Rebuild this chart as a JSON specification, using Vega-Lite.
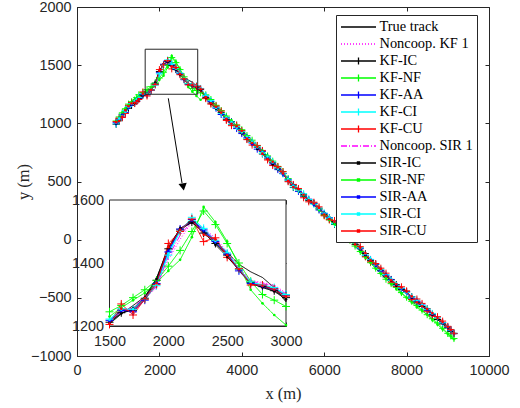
{
"$schema":"https://vega.github.io/schema/vega-lite/v6.json",
"width":412,"height":349,"autosize":"none",
"padding":{"left":77,"top":7,"right":31,"bottom":52},
"background":"white",
"config":{"view":{"stroke":"#262626","strokeWidth":1},
"axis":{"grid":false,"domainColor":"#262626","tickColor":"#262626","labelColor":"#262626","labelFont":"Liberation Sans","labelFontSize":14.4,"titleFont":"Liberation Serif","titleFontSize":16.5,"titleFontWeight":"normal","titleColor":"#262626","labelFlush":false,"labelOverlap":false,"tickSize":-4,"labelPadding":10,"domainWidth":1,"tickWidth":1}},
"datasets":{
"tracks":[
{"x":950,"T":1000,"N1":1010,"KIC":992,"KNF":1020,"KAA":1005,"KCI":995,"KCU":1015,"S1":1006,"SIC":996,"SNF":1015,"SAA":1000,"SCI":1008,"SCU":1010},
{"x":1025,"T":1030,"N1":1040,"KIC":1022,"KNF":1055,"KAA":1036,"KCI":1028,"KCU":1045,"S1":1034,"SIC":1026,"SNF":1050,"SAA":1038,"SCI":1040,"SCU":1020},
{"x":1100,"T":1065,"N1":1060,"KIC":1077,"KNF":1090,"KAA":1055,"KCI":1073,"KCU":1050,"S1":1069,"SIC":1071,"SNF":1093,"SAA":1073,"SCI":1063,"SCU":1059},
{"x":1175,"T":1100,"N1":1095,"KIC":1112,"KNF":1125,"KAA":1094,"KCI":1110,"KCU":1085,"S1":1104,"SIC":1108,"SNF":1128,"SAA":1106,"SCI":1098,"SCU":1112},
{"x":1250,"T":1135,"N1":1150,"KIC":1130,"KNF":1165,"KAA":1143,"KCI":1147,"KCU":1155,"S1":1127,"SIC":1145,"SNF":1157,"SAA":1131,"SCI":1141,"SCU":1147},
{"x":1325,"T":1160,"N1":1170,"KIC":1155,"KNF":1185,"KAA":1168,"KCI":1172,"KCU":1180,"S1":1158,"SIC":1166,"SNF":1180,"SAA":1160,"SCI":1170,"SCU":1172},
{"x":1400,"T":1180,"N1":1185,"KIC":1190,"KNF":1200,"KAA":1174,"KCI":1176,"KCU":1170,"S1":1190,"SIC":1172,"SNF":1205,"SAA":1186,"SCI":1192,"SCU":1176},
{"x":1450,"T":1195,"N1":1200,"KIC":1202,"KNF":1222,"KAA":1190,"KCI":1198,"KCU":1188,"S1":1204,"SIC":1196,"SNF":1218,"SAA":1200,"SCI":1206,"SCU":1192},
{"x":1500,"T":1207,"N1":1215,"KIC":1212,"KNF":1245,"KAA":1218,"KCI":1222,"KCU":1205,"S1":1213,"SIC":1210,"SNF":1230,"SAA":1215,"SCI":1220,"SCU":1208},
{"x":1600,"T":1238,"N1":1250,"KIC":1242,"KNF":1265,"KAA":1250,"KCI":1255,"KCU":1270,"S1":1246,"SIC":1240,"SNF":1258,"SAA":1248,"SCI":1252,"SCU":1255},
{"x":1700,"T":1265,"N1":1255,"KIC":1250,"KNF":1290,"KAA":1245,"KCI":1252,"KCU":1235,"S1":1258,"SIC":1255,"SNF":1282,"SAA":1250,"SCI":1254,"SCU":1245},
{"x":1800,"T":1293,"N1":1290,"KIC":1288,"KNF":1315,"KAA":1282,"KCI":1285,"KCU":1285,"S1":1292,"SIC":1290,"SNF":1305,"SAA":1286,"SCI":1288,"SCU":1288},
{"x":1900,"T":1352,"N1":1320,"KIC":1345,"KNF":1345,"KAA":1335,"KCI":1328,"KCU":1332,"S1":1325,"SIC":1350,"SNF":1338,"SAA":1338,"SCI":1332,"SCU":1336},
{"x":2000,"T":1450,"N1":1410,"KIC":1445,"KNF":1390,"KAA":1435,"KCI":1425,"KCU":1462,"S1":1420,"SIC":1448,"SNF":1375,"SAA":1438,"SCI":1430,"SCU":1450},
{"x":2100,"T":1508,"N1":1475,"KIC":1505,"KNF":1440,"KAA":1508,"KCI":1500,"KCU":1500,"S1":1488,"SIC":1510,"SNF":1410,"SAA":1505,"SCI":1502,"SCU":1505},
{"x":2200,"T":1532,"N1":1530,"KIC":1530,"KNF":1500,"KAA":1538,"KCI":1545,"KCU":1540,"S1":1532,"SIC":1528,"SNF":1482,"SAA":1535,"SCI":1542,"SCU":1538},
{"x":2300,"T":1505,"N1":1510,"KIC":1495,"KNF":1565,"KAA":1505,"KCI":1510,"KCU":1468,"S1":1506,"SIC":1500,"SNF":1578,"SAA":1502,"SCI":1508,"SCU":1490},
{"x":2400,"T":1466,"N1":1480,"KIC":1462,"KNF":1522,"KAA":1468,"KCI":1472,"KCU":1480,"S1":1474,"SIC":1458,"SNF":1530,"SAA":1466,"SCI":1470,"SCU":1475},
{"x":2500,"T":1433,"N1":1435,"KIC":1425,"KNF":1462,"KAA":1428,"KCI":1432,"KCU":1418,"S1":1433,"SIC":1420,"SNF":1468,"SAA":1430,"SCI":1434,"SCU":1425},
{"x":2600,"T":1396,"N1":1385,"KIC":1380,"KNF":1400,"KAA":1375,"KCI":1380,"KCU":1382,"S1":1380,"SIC":1378,"SNF":1392,"SAA":1378,"SCI":1382,"SCU":1380},
{"x":2700,"T":1372,"N1":1345,"KIC":1338,"KNF":1342,"KAA":1335,"KCI":1340,"KCU":1330,"S1":1342,"SIC":1335,"SNF":1315,"SAA":1336,"SCI":1338,"SCU":1333},
{"x":2800,"T":1354,"N1":1338,"KIC":1325,"KNF":1300,"KAA":1328,"KCI":1330,"KCU":1330,"S1":1335,"SIC":1322,"SNF":1272,"SAA":1326,"SCI":1330,"SCU":1328},
{"x":2900,"T":1322,"N1":1330,"KIC":1312,"KNF":1282,"KAA":1318,"KCI":1322,"KCU":1318,"S1":1326,"SIC":1310,"SNF":1235,"SAA":1316,"SCI":1320,"SCU":1316},
{"x":3000,"T":1277,"N1":1305,"KIC":1290,"KNF":1262,"KAA":1298,"KCI":1300,"KCU":1295,"S1":1302,"SIC":1285,"SNF":1203,"SAA":1296,"SCI":1299,"SCU":1294},
{"x":3125,"T":1228,"N1":1240,"KIC":1220,"KNF":1245,"KAA":1235,"KCI":1238,"KCU":1212,"S1":1232,"SIC":1222,"SNF":1230,"SAA":1236,"SCI":1240,"SCU":1225},
{"x":3250,"T":1180,"N1":1192,"KIC":1174,"KNF":1205,"KAA":1188,"KCI":1195,"KCU":1165,"S1":1185,"SIC":1170,"SNF":1200,"SAA":1184,"SCI":1192,"SCU":1172},
{"x":3375,"T":1128,"N1":1122,"KIC":1140,"KNF":1155,"KAA":1130,"KCI":1138,"KCU":1150,"S1":1134,"SIC":1125,"SNF":1150,"SAA":1136,"SCI":1132,"SCU":1142},
{"x":3500,"T":1080,"N1":1072,"KIC":1094,"KNF":1110,"KAA":1076,"KCI":1086,"KCU":1105,"S1":1090,"SIC":1088,"SNF":1098,"SAA":1090,"SCI":1084,"SCU":1092},
{"x":3625,"T":1040,"N1":1052,"KIC":1035,"KNF":1062,"KAA":1048,"KCI":1044,"KCU":1025,"S1":1046,"SIC":1050,"SNF":1060,"SAA":1042,"SCI":1052,"SCU":1038},
{"x":3750,"T":1000,"N1":1010,"KIC":990,"KNF":1015,"KAA":1012,"KCI":992,"KCU":980,"S1":994,"SIC":1004,"SNF":1025,"SAA":1002,"SCI":1010,"SCU":996},
{"x":3875,"T":960,"N1":965,"KIC":970,"KNF":985,"KAA":955,"KCI":972,"KCU":985,"S1":958,"SIC":966,"SNF":980,"SAA":968,"SCI":962,"SCU":975},
{"x":4000,"T":920,"N1":935,"KIC":925,"KNF":945,"KAA":912,"KCI":932,"KCU":938,"S1":928,"SIC":914,"SNF":940,"SAA":928,"SCI":922,"SCU":935},
{"x":4125,"T":873,"N1":885,"KIC":866,"KNF":895,"KAA":880,"KCI":870,"KCU":860,"S1":882,"SIC":874,"SNF":890,"SAA":878,"SCI":884,"SCU":868},
{"x":4250,"T":825,"N1":820,"KIC":837,"KNF":855,"KAA":831,"KCI":835,"KCU":813,"S1":837,"SIC":835,"SNF":837,"SAA":821,"SCI":839,"SCU":831},
{"x":4375,"T":785,"N1":790,"KIC":795,"KNF":808,"KAA":778,"KCI":798,"KCU":810,"S1":788,"SIC":780,"SNF":800,"SAA":792,"SCI":794,"SCU":799},
{"x":4500,"T":745,"N1":755,"KIC":737,"KNF":755,"KAA":760,"KCI":741,"KCU":767,"S1":741,"SIC":751,"SNF":765,"SAA":755,"SCI":751,"SCU":739},
{"x":4625,"T":700,"N1":712,"KIC":695,"KNF":720,"KAA":710,"KCI":702,"KCU":685,"S1":706,"SIC":712,"SNF":722,"SAA":700,"SCI":714,"SCU":692},
{"x":4750,"T":655,"N1":673,"KIC":661,"KNF":675,"KAA":650,"KCI":669,"KCU":637,"S1":664,"SIC":647,"SNF":670,"SAA":661,"SCI":663,"SCU":669},
{"x":4875,"T":608,"N1":600,"KIC":615,"KNF":630,"KAA":602,"KCI":620,"KCU":628,"S1":612,"SIC":605,"SNF":620,"SAA":615,"SCI":610,"SCU":622},
{"x":5000,"T":560,"N1":554,"KIC":570,"KNF":585,"KAA":568,"KCI":566,"KCU":585,"S1":563,"SIC":572,"SNF":568,"SAA":560,"SCI":572,"SCU":570},
{"x":5125,"T":510,"N1":522,"KIC":505,"KNF":525,"KAA":518,"KCI":512,"KCU":498,"S1":516,"SIC":520,"SNF":520,"SAA":508,"SCI":520,"SCU":505},
{"x":5250,"T":460,"N1":472,"KIC":448,"KNF":465,"KAA":470,"KCI":452,"KCU":475,"S1":450,"SIC":464,"SNF":470,"SAA":468,"SCI":462,"SCU":452},
{"x":5375,"T":420,"N1":415,"KIC":432,"KNF":428,"KAA":415,"KCI":428,"KCU":440,"S1":424,"SIC":418,"SNF":425,"SAA":428,"SCI":422,"SCU":433},
{"x":5500,"T":380,"N1":388,"KIC":385,"KNF":375,"KAA":374,"KCI":396,"KCU":360,"S1":392,"SIC":376,"SNF":380,"SAA":390,"SCI":390,"SCU":386},
{"x":5625,"T":340,"N1":352,"KIC":336,"KNF":345,"KAA":348,"KCI":344,"KCU":325,"S1":338,"SIC":350,"SNF":340,"SAA":342,"SCI":352,"SCU":338},
{"x":5750,"T":300,"N1":290,"KIC":314,"KNF":310,"KAA":312,"KCI":304,"KCU":322,"S1":306,"SIC":308,"SNF":305,"SAA":298,"SCI":314,"SCU":312},
{"x":5875,"T":260,"N1":256,"KIC":270,"KNF":262,"KAA":255,"KCI":272,"KCU":282,"S1":266,"SIC":258,"SNF":255,"SAA":268,"SCI":264,"SCU":272},
{"x":6000,"T":220,"N1":234,"KIC":214,"KNF":210,"KAA":225,"KCI":230,"KCU":205,"S1":212,"SIC":230,"SNF":212,"SAA":226,"SCI":224,"SCU":216},
{"x":6125,"T":183,"N1":192,"KIC":178,"KNF":172,"KAA":190,"KCI":186,"KCU":170,"S1":188,"SIC":192,"SNF":170,"SAA":180,"SCI":192,"SCU":178},
{"x":6250,"T":145,"N1":151,"KIC":153,"KNF":130,"KAA":135,"KCI":139,"KCU":165,"S1":155,"SIC":139,"SNF":133,"SAA":153,"SCI":153,"SCU":155},
{"x":6375,"T":103,"N1":98,"KIC":112,"KNF":90,"KAA":98,"KCI":114,"KCU":122,"S1":106,"SIC":100,"SNF":85,"SAA":110,"SCI":106,"SCU":115},
{"x":6500,"T":60,"N1":48,"KIC":72,"KNF":55,"KAA":68,"KCI":74,"KCU":50,"S1":64,"SIC":66,"SNF":42,"SAA":62,"SCI":72,"SCU":68},
{"x":6625,"T":13,"N1":24,"KIC":8,"KNF":-5,"KAA":22,"KCI":18,"KCU":0,"S1":20,"SIC":24,"SNF":-8,"SAA":16,"SCI":22,"SCU":10},
{"x":6750,"T":-35,"N1":-25,"KIC":-40,"KNF":-55,"KAA":-21,"KCI":-27,"KCU":-10,"S1":-41,"SIC":-25,"SNF":-50,"SAA":-25,"SCI":-29,"SCU":-41},
{"x":6875,"T":-83,"N1":-88,"KIC":-72,"KNF":-102,"KAA":-78,"KCI":-70,"KCU":-60,"S1":-80,"SIC":-85,"SNF":-105,"SAA":-76,"SCI":-74,"SCU":-70},
{"x":7000,"T":-130,"N1":-125,"KIC":-120,"KNF":-145,"KAA":-136,"KCI":-134,"KCU":-148,"S1":-118,"SIC":-134,"SNF":-155,"SAA":-126,"SCI":-120,"SCU":-116},
{"x":7125,"T":-175,"N1":-168,"KIC":-180,"KNF":-198,"KAA":-170,"KCI":-172,"KCU":-190,"S1":-164,"SIC":-178,"SNF":-200,"SAA":-168,"SCI":-166,"SCU":-176},
{"x":7250,"T":-220,"N1":-228,"KIC":-214,"KNF":-245,"KAA":-210,"KCI":-208,"KCU":-205,"S1":-218,"SIC":-212,"SNF":-250,"SAA":-224,"SCI":-212,"SCU":-210},
{"x":7375,"T":-265,"N1":-258,"KIC":-262,"KNF":-290,"KAA":-270,"KCI":-255,"KCU":-245,"S1":-268,"SIC":-258,"SNF":-292,"SAA":-262,"SCI":-258,"SCU":-252},
{"x":7500,"T":-310,"N1":-295,"KIC":-320,"KNF":-340,"KAA":-306,"KCI":-300,"KCU":-288,"S1":-318,"SIC":-304,"SNF":-335,"SAA":-302,"SCI":-308,"SCU":-312},
{"x":7625,"T":-350,"N1":-355,"KIC":-342,"KNF":-378,"KAA":-345,"KCI":-350,"KCU":-365,"S1":-346,"SIC":-352,"SNF":-382,"SAA":-344,"SCI":-340,"SCU":-348},
{"x":7750,"T":-390,"N1":-384,"KIC":-385,"KNF":-410,"KAA":-398,"KCI":-392,"KCU":-402,"S1":-380,"SIC":-396,"SNF":-425,"SAA":-384,"SCI":-378,"SCU":-382},
{"x":7875,"T":-425,"N1":-418,"KIC":-430,"KNF":-455,"KAA":-420,"KCI":-416,"KCU":-405,"S1":-428,"SIC":-420,"SNF":-462,"SAA":-424,"SCI":-418,"SCU":-412},
{"x":8000,"T":-460,"N1":-470,"KIC":-448,"KNF":-495,"KAA":-448,"KCI":-452,"KCU":-440,"S1":-454,"SIC":-450,"SNF":-500,"SAA":-458,"SCI":-454,"SCU":-448},
{"x":8125,"T":-498,"N1":-505,"KIC":-490,"KNF":-530,"KAA":-502,"KCI":-492,"KCU":-515,"S1":-494,"SIC":-500,"SNF":-540,"SAA":-495,"SCI":-490,"SCU":-488},
{"x":8250,"T":-535,"N1":-523,"KIC":-543,"KNF":-565,"KAA":-529,"KCI":-521,"KCU":-510,"S1":-539,"SIC":-531,"SNF":-580,"SAA":-525,"SCI":-527,"SCU":-539},
{"x":8375,"T":-570,"N1":-565,"KIC":-574,"KNF":-605,"KAA":-562,"KCI":-566,"KCU":-548,"S1":-572,"SIC":-566,"SNF":-612,"SAA":-568,"SCI":-560,"SCU":-572},
{"x":8500,"T":-605,"N1":-601,"KIC":-595,"KNF":-645,"KAA":-610,"KCI":-599,"KCU":-615,"S1":-597,"SIC":-597,"SNF":-645,"SAA":-601,"SCI":-591,"SCU":-595},
{"x":8625,"T":-643,"N1":-636,"KIC":-640,"KNF":-680,"KAA":-648,"KCI":-634,"KCU":-655,"S1":-640,"SIC":-646,"SNF":-690,"SAA":-638,"SCI":-634,"SCU":-632},
{"x":8750,"T":-680,"N1":-672,"KIC":-686,"KNF":-715,"KAA":-670,"KCI":-670,"KCU":-662,"S1":-678,"SIC":-684,"SNF":-730,"SAA":-674,"SCI":-676,"SCU":-674},
{"x":8875,"T":-720,"N1":-716,"KIC":-724,"KNF":-762,"KAA":-712,"KCI":-714,"KCU":-700,"S1":-722,"SIC":-718,"SNF":-770,"SAA":-716,"SCI":-712,"SCU":-708},
{"x":9000,"T":-760,"N1":-750,"KIC":-756,"KNF":-805,"KAA":-752,"KCI":-748,"KCU":-745,"S1":-754,"SIC":-758,"SNF":-810,"SAA":-752,"SCI":-750,"SCU":-750},
{"x":9075,"T":-785,"N1":-780,"KIC":-788,"KNF":-828,"KAA":-778,"KCI":-776,"KCU":-772,"S1":-784,"SIC":-786,"SNF":-832,"SAA":-780,"SCI":-778,"SCU":-776},
{"x":9150,"T":-810,"N1":-805,"KIC":-808,"KNF":-850,"KAA":-807,"KCI":-804,"KCU":-805,"S1":-806,"SIC":-810,"SNF":-855,"SAA":-806,"SCI":-804,"SCU":-806}
],
"box":[{"x":1655,"x2":2930,"y":1250,"y2":1637}],
"arrow":[{"x":2216,"y":1215,"x2":2549,"y2":487,"hx":2578,"hy":453}],
"inset":[{"x":1500,"x2":3000,"y":1200,"y2":1600}]
},
"layer":[
{"layer":[
{"data":{"name":"tracks"},"transform":[{"fold":["T","N1","KIC","KNF","KAA","KCI","KCU","S1","SIC","SNF","SAA","SCI","SCU"],"as":["s","v"]}],
"mark":{"type":"line","strokeWidth":1},
"encoding":{
"x":{"field":"x","type":"quantitative","scale":{"domain":[0,10000],"nice":false,"zero":false},"axis":{"orient":"bottom","values":[0,2000,4000,6000,8000,10000],"format":"d","labelPadding":11,"title":"x (m)","titlePadding":9}},
"y":{"field":"v","type":"quantitative","scale":{"domain":[-1000,2000],"nice":false,"zero":false},"axis":{"orient":"left","values":[-1000,-500,0,500,1000,1500,2000],"format":"d","title":"y (m)","titlePadding":-1}},
"color":{"field":"s","type":"nominal","scale":{"domain":["T","N1","KIC","KNF","KAA","KCI","KCU","S1","SIC","SNF","SAA","SCI","SCU"],"range":["#000000","#ff00ff","#000000","#00ff00","#0000ff","#00ffff","#ff0000","#ff00ff","#000000","#00ff00","#0000ff","#00ffff","#ff0000"]},
"legend":{"title":null,"orient":"none","legendX":259,"legendY":8,"fillColor":"white","strokeColor":"#262626","padding":4,"cornerRadius":0,"symbolType":"stroke","symbolSize":196,"symbolStrokeWidth":1.3,"symbolOffset":10.5,"labelOffset":13,"labelFont":"Liberation Serif","labelFontSize":14.4,"labelColor":"#000000","rowPadding":2,
"labelExpr":"{'T':'True track','N1':'Noncoop. KF 1','KIC':'KF-IC','KNF':'KF-NF','KAA':'KF-AA','KCI':'KF-CI','KCU':'KF-CU','S1':'Noncoop. SIR 1','SIC':'SIR-IC','SNF':'SIR-NF','SAA':'SIR-AA','SCI':'SIR-CI','SCU':'SIR-CU'}[datum.value]",
"encoding":{"symbols":{"stroke":{"value":{"expr":"(datum.value == 'N1' || datum.value == 'S1') ? '#ff00ff' : scale('color', datum.value)"}},"strokeDash":{"value":{"expr":"datum.value == 'N1' ? [1.5,2] : (datum.value == 'S1' ? [6,2,1.5,2] : [1,0])"}},"shape":{"value":{"expr":"indexof(['KIC','KNF','KAA','KCI','KCU'], datum.value) >= 0 ? 'M-2.5,0H2.5M0,-0.5V0.5M-0.5,0H0.5' : (indexof(['SIC','SNF','SAA','SCI','SCU'], datum.value) >= 0 ? 'M-2.5,0H2.5M-0.15,-0.15H0.15V0.15H-0.15Z' : 'M-2.5,0H2.5')"}}}}}},
"strokeDash":{"field":"s","type":"nominal","scale":{"domain":["T","N1","KIC","KNF","KAA","KCI","KCU","S1","SIC","SNF","SAA","SCI","SCU"],"range":[[1,0],[1,2],[1,0],[1,0],[1,0],[1,0],[1,0],[6,2,1,2],[1,0],[1,0],[1,0],[1,0],[1,0]]},
"legend":{"title":null,"orient":"none","legendX":259,"legendY":8,"fillColor":"white","strokeColor":"#262626","padding":4,"cornerRadius":0,"symbolType":"stroke","symbolSize":196,"symbolStrokeWidth":1.3,"symbolOffset":10.5,"labelOffset":13,"labelFont":"Liberation Serif","labelFontSize":14.4,"labelColor":"#000000","rowPadding":2,
"labelExpr":"{'T':'True track','N1':'Noncoop. KF 1','KIC':'KF-IC','KNF':'KF-NF','KAA':'KF-AA','KCI':'KF-CI','KCU':'KF-CU','S1':'Noncoop. SIR 1','SIC':'SIR-IC','SNF':'SIR-NF','SAA':'SIR-AA','SCI':'SIR-CI','SCU':'SIR-CU'}[datum.value]",
"encoding":{"symbols":{"stroke":{"value":{"expr":"(datum.value == 'N1' || datum.value == 'S1') ? '#ff00ff' : scale('color', datum.value)"}},"strokeDash":{"value":{"expr":"datum.value == 'N1' ? [1.5,2] : (datum.value == 'S1' ? [6,2,1.5,2] : [1,0])"}},"shape":{"value":{"expr":"indexof(['KIC','KNF','KAA','KCI','KCU'], datum.value) >= 0 ? 'M-2.5,0H2.5M0,-0.5V0.5M-0.5,0H0.5' : (indexof(['SIC','SNF','SAA','SCI','SCU'], datum.value) >= 0 ? 'M-2.5,0H2.5M-0.15,-0.15H0.15V0.15H-0.15Z' : 'M-2.5,0H2.5')"}}}}}}
}},
{"data":{"name":"tracks"},"transform":[{"fold":["T","N1","KIC","KNF","KAA","KCI","KCU","S1","SIC","SNF","SAA","SCI","SCU"],"as":["s","v"]},{"filter":{"field":"s","oneOf":["KIC","KNF","KAA","KCI","KCU"]}}],
"mark":{"type":"point","shape":"M-1,0H1M0,-1V1","size":49,"filled":false,"strokeWidth":1,"opacity":1},
"encoding":{
"x":{"field":"x","type":"quantitative","scale":{"domain":[0,10000],"nice":false,"zero":false},"axis":null},
"y":{"field":"v","type":"quantitative","scale":{"domain":[-1000,2000],"nice":false,"zero":false},"axis":null},
"color":{"field":"s","type":"nominal","scale":{"domain":["T","N1","KIC","KNF","KAA","KCI","KCU","S1","SIC","SNF","SAA","SCI","SCU"],"range":["#000000","#ff00ff","#000000","#00ff00","#0000ff","#00ffff","#ff0000","#ff00ff","#000000","#00ff00","#0000ff","#00ffff","#ff0000"]},"legend":null}}},
{"data":{"name":"tracks"},"transform":[{"fold":["T","N1","KIC","KNF","KAA","KCI","KCU","S1","SIC","SNF","SAA","SCI","SCU"],"as":["s","v"]},{"filter":{"field":"s","oneOf":["SIC","SNF","SAA","SCI","SCU"]}}],
"mark":{"type":"point","shape":"circle","size":7,"filled":true,"opacity":1},
"encoding":{
"x":{"field":"x","type":"quantitative","scale":{"domain":[0,10000],"nice":false,"zero":false},"axis":null},
"y":{"field":"v","type":"quantitative","scale":{"domain":[-1000,2000],"nice":false,"zero":false},"axis":null},
"color":{"field":"s","type":"nominal","scale":{"domain":["T","N1","KIC","KNF","KAA","KCI","KCU","S1","SIC","SNF","SAA","SCI","SCU"],"range":["#000000","#ff00ff","#000000","#00ff00","#0000ff","#00ffff","#ff0000","#ff00ff","#000000","#00ff00","#0000ff","#00ffff","#ff0000"]},"legend":null}}},
{"data":{"name":"box"},"mark":{"type":"rect","fill":"transparent","stroke":"#262626","strokeWidth":1},
"encoding":{
"x":{"field":"x","type":"quantitative","scale":{"domain":[0,10000],"nice":false,"zero":false},"axis":{"orient":"top","values":[0,2000,4000,6000,8000,10000],"labels":false,"domain":false,"title":null}},
"x2":{"field":"x2"},
"y":{"field":"y","type":"quantitative","scale":{"domain":[-1000,2000],"nice":false,"zero":false},"axis":{"orient":"right","values":[-1000,-500,0,500,1000,1500,2000],"labels":false,"domain":false,"title":null}},
"y2":{"field":"y2"}}},
{"data":{"name":"arrow"},"mark":{"type":"rule","color":"#000000","strokeWidth":1},
"encoding":{
"x":{"field":"x","type":"quantitative","scale":{"domain":[0,10000],"nice":false,"zero":false},"axis":null},
"y":{"field":"y","type":"quantitative","scale":{"domain":[-1000,2000],"nice":false,"zero":false},"axis":null},
"x2":{"field":"x2"},"y2":{"field":"y2"}}},
{"data":{"name":"arrow"},"mark":{"type":"point","shape":"triangle-down","filled":true,"color":"#000000","size":70,"angle":350.5,"opacity":1},
"encoding":{
"x":{"field":"hx","type":"quantitative","scale":{"domain":[0,10000],"nice":false,"zero":false},"axis":null},
"y":{"field":"hy","type":"quantitative","scale":{"domain":[-1000,2000],"nice":false,"zero":false},"axis":null}}}
],
"resolve":{"axis":{"x":"independent","y":"independent"}}},
{"layer":[
{"data":{"name":"inset"},"mark":{"type":"rect","fill":"white","stroke":"#262626","strokeWidth":1},
"encoding":{
"x":{"field":"x","type":"quantitative","scale":{"domain":[1500,3000],"range":[32.5,209],"nice":false,"zero":false},"axis":{"orient":"top","offset":-193,"values":[1500,2000,2500,3000],"labels":false,"domain":false,"title":null}},
"x2":{"field":"x2"},
"y":{"field":"y","type":"quantitative","scale":{"domain":[1200,1600],"range":[319,193],"nice":false,"zero":false},"axis":{"orient":"right","offset":-203,"values":[1200,1400,1600],"labels":false,"domain":false,"title":null}},
"y2":{"field":"y2"}}},
{"data":{"name":"tracks"},"transform":[{"filter":{"field":"x","range":[1500,3000]}},{"fold":["T","N1","KIC","KNF","KAA","KCI","KCU","S1","SIC","SNF","SAA","SCI","SCU"],"as":["s","v"]}],
"mark":{"type":"line","strokeWidth":1},
"encoding":{
"x":{"field":"x","type":"quantitative","scale":{"domain":[1500,3000],"range":[32.5,209],"nice":false,"zero":false},"axis":{"orient":"bottom","offset":-30,"values":[1500,2000,2500,3000],"format":"d","labelPadding":12,"title":null}},
"y":{"field":"v","type":"quantitative","scale":{"domain":[1200,1600],"range":[319,193],"nice":false,"zero":false},"axis":{"orient":"left","offset":-32.5,"values":[1200,1400,1600],"format":"d","title":null}},
"color":{"field":"s","type":"nominal","scale":{"domain":["T","N1","KIC","KNF","KAA","KCI","KCU","S1","SIC","SNF","SAA","SCI","SCU"],"range":["#000000","#ff00ff","#000000","#00ff00","#0000ff","#00ffff","#ff0000","#ff00ff","#000000","#00ff00","#0000ff","#00ffff","#ff0000"]},"legend":null},
"strokeDash":{"field":"s","type":"nominal","scale":{"domain":["T","N1","KIC","KNF","KAA","KCI","KCU","S1","SIC","SNF","SAA","SCI","SCU"],"range":[[1,0],[1,2],[1,0],[1,0],[1,0],[1,0],[1,0],[6,2,1,2],[1,0],[1,0],[1,0],[1,0],[1,0]]},"legend":null}}},
{"data":{"name":"tracks"},"transform":[{"filter":{"field":"x","range":[1500,3000]}},{"fold":["T","N1","KIC","KNF","KAA","KCI","KCU","S1","SIC","SNF","SAA","SCI","SCU"],"as":["s","v"]},{"filter":{"field":"s","oneOf":["KIC","KNF","KAA","KCI","KCU"]}}],
"mark":{"type":"point","shape":"M-1,0H1M0,-1V1","size":64,"filled":false,"strokeWidth":1,"opacity":1},
"encoding":{
"x":{"field":"x","type":"quantitative","scale":{"domain":[1500,3000],"range":[32.5,209],"nice":false,"zero":false},"axis":null},
"y":{"field":"v","type":"quantitative","scale":{"domain":[1200,1600],"range":[319,193],"nice":false,"zero":false},"axis":null},
"color":{"field":"s","type":"nominal","scale":{"domain":["T","N1","KIC","KNF","KAA","KCI","KCU","S1","SIC","SNF","SAA","SCI","SCU"],"range":["#000000","#ff00ff","#000000","#00ff00","#0000ff","#00ffff","#ff0000","#ff00ff","#000000","#00ff00","#0000ff","#00ffff","#ff0000"]},"legend":null}}},
{"data":{"name":"tracks"},"transform":[{"filter":{"field":"x","range":[1500,3000]}},{"fold":["T","N1","KIC","KNF","KAA","KCI","KCU","S1","SIC","SNF","SAA","SCI","SCU"],"as":["s","v"]},{"filter":{"field":"s","oneOf":["SIC","SNF","SAA","SCI","SCU"]}}],
"mark":{"type":"point","shape":"circle","size":7,"filled":true,"opacity":1},
"encoding":{
"x":{"field":"x","type":"quantitative","scale":{"domain":[1500,3000],"range":[32.5,209],"nice":false,"zero":false},"axis":null},
"y":{"field":"v","type":"quantitative","scale":{"domain":[1200,1600],"range":[319,193],"nice":false,"zero":false},"axis":null},
"color":{"field":"s","type":"nominal","scale":{"domain":["T","N1","KIC","KNF","KAA","KCI","KCU","S1","SIC","SNF","SAA","SCI","SCU"],"range":["#000000","#ff00ff","#000000","#00ff00","#0000ff","#00ffff","#ff0000","#ff00ff","#000000","#00ff00","#0000ff","#00ffff","#ff0000"]},"legend":null}}}
],
"resolve":{"axis":{"x":"independent","y":"independent"}}}
],
"resolve":{"scale":{"x":"independent","y":"independent"}}
}
